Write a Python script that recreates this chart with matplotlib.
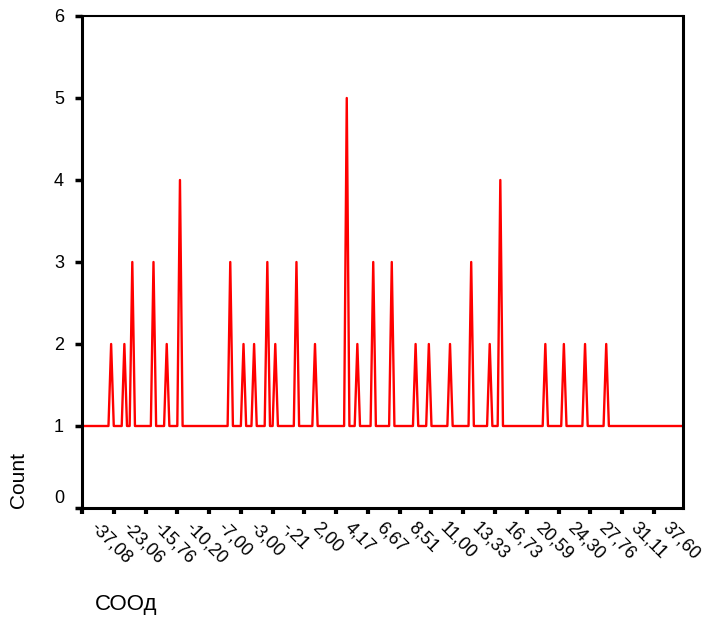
import numpy as np
import matplotlib
matplotlib.use("Agg")
import matplotlib.pyplot as plt
from matplotlib.transforms import ScaledTranslation

plt.rcParams['font.family'] = ['Liberation Sans', 'DejaVu Sans']

# Count per distinct value of СООд (228 sorted categories, 12 per tick label)
counts = [
    1, 1, 1, 1, 1, 1, 1, 1, 1, 1, 1, 2,
    1, 1, 1, 1, 2, 1, 1, 3, 1, 1, 1, 1,
    1, 1, 1, 3, 1, 1, 1, 1, 2, 1, 1, 1,
    1, 4, 1, 1, 1, 1, 1, 1, 1, 1, 1, 1,
    1, 1, 1, 1, 1, 1, 1, 1, 3, 1, 1, 1,
    1, 2, 1, 1, 1, 2, 1, 1, 1, 1, 3, 1,
    1, 2, 1, 1, 1, 1, 1, 1, 1, 3, 1, 1,
    1, 1, 1, 1, 2, 1, 1, 1, 1, 1, 1, 1,
    1, 1, 1, 1, 5, 1, 1, 1, 2, 1, 1, 1,
    1, 1, 3, 1, 1, 1, 1, 1, 1, 3, 1, 1,
    1, 1, 1, 1, 1, 1, 2, 1, 1, 1, 1, 2,
    1, 1, 1, 1, 1, 1, 1, 2, 1, 1, 1, 1,
    1, 1, 1, 3, 1, 1, 1, 1, 1, 1, 2, 1,
    1, 1, 4, 1, 1, 1, 1, 1, 1, 1, 1, 1,
    1, 1, 1, 1, 1, 1, 1, 2, 1, 1, 1, 1,
    1, 1, 2, 1, 1, 1, 1, 1, 1, 1, 2, 1,
    1, 1, 1, 1, 1, 1, 2, 1, 1, 1, 1, 1,
    1, 1, 1, 1, 1, 1, 1, 1, 1, 1, 1, 1,
    1, 1, 1, 1, 1, 1, 1, 1, 1, 1, 1, 1,
]

# labels shown on every 12th category
tick_labels = ["-37,08", "-23,06", "-15,76", "-10,20", "-7,00", "-3,00", "-,21",
               "2,00", "4,17", "6,67", "8,51", "11,00", "13,33", "16,73",
               "20,59", "24,30", "27,76", "31,11", "37,60"]
label_step = 12

fig = plt.figure(figsize=(7.02, 6.30), dpi=100)
ax = fig.add_axes([82 / 702, 1 - 508 / 630, 601 / 702, 492 / 630])

x = np.arange(len(counts))
ax.plot(x, counts, color='#ff0000', linewidth=1.7)

ax.set_xlim(0, len(counts) - 1)
ax.set_ylim(0, 6)
ax.set_yticks(range(0, 7))
ax.set_xticks(np.arange(len(tick_labels)) * label_step)
ax.set_xticklabels(tick_labels, rotation=-45, ha='left', va='center',
                   rotation_mode='anchor', fontsize=13)
ax.tick_params(axis='y', labelsize=13, length=5, width=2.5, direction='out', pad=8)
ax.tick_params(axis='x', length=4, width=3, direction='out', pad=8)

# shift the rotated labels a little to the right like the original
offset = ScaledTranslation(8 / 72, 0, fig.dpi_scale_trans)
for lab in ax.get_xticklabels():
    lab.set_transform(lab.get_transform() + offset)
# "0" sits a bit higher than its tick
ylab0 = ax.get_yticklabels()[0]
ylab0.set_transform(ylab0.get_transform() + ScaledTranslation(0, 8 / 72, fig.dpi_scale_trans))

for side in ['left', 'bottom', 'right']:
    ax.spines[side].set_linewidth(2.2)
ax.spines['top'].set_linewidth(1.5)

ax.set_ylabel('Count', fontsize=15, loc='bottom')
ax.yaxis.set_label_coords(-0.09, 0.0)
ax.set_xlabel('СООд', fontsize=16, loc='left')
ax.xaxis.set_label_coords(13 / 601, -86 / 492)

fig.savefig('out.png', dpi=100)
